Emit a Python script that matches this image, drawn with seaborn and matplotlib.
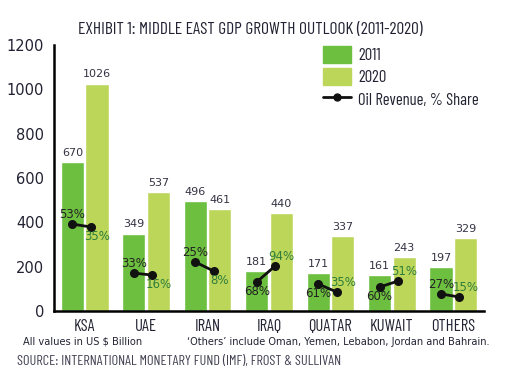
import matplotlib
matplotlib.use("Agg")
import matplotlib.pyplot as plt
import seaborn as sns
import pandas as pd
from matplotlib.lines import Line2D
from matplotlib.patches import Patch

countries = ['KSA', 'UAE', 'IRAN', 'IRAQ', 'QUATAR', 'KUWAIT', 'OTHERS']
gdp_2011 = [670, 349, 496, 181, 171, 161, 197]
gdp_2020 = [1026, 537, 461, 440, 337, 243, 329]
oil_2011 = [53, 33, 25, 68, 61, 60, 27]
oil_2020 = [35, 16, 8, 94, 35, 51, 15]
# height (on the GDP axis) where the oil share markers sit
oil_y_2011 = [392, 171, 221, 131, 122, 108, 77]
oil_y_2020 = [379, 162, 180, 203, 86, 135, 63]
# label side for the share text: 1 = above the marker, -1 = below
side_2011 = [1, 1, 1, -1, -1, -1, 1]
side_2020 = [-1, -1, -1, 1, 1, 1, 1]

c11 = '#6cbf3f'
c20 = '#bcd65a'
narrow = ['Barlow Condensed', 'DejaVu Sans']

df = pd.DataFrame({
    'country': countries * 2,
    'gdp': gdp_2011 + gdp_2020,
    'year': ['2011'] * 7 + ['2020'] * 7,
})

sns.set_style('white')
plt.rcParams['font.family'] = ['DejaVu Sans']

fig = plt.figure(figsize=(5.15, 3.77), dpi=100)
ax = fig.add_axes([54 / 515, 1 - 311 / 377, 430 / 515, 266 / 377])

sns.barplot(data=df, x='country', y='gdp', hue='year', palette=[c11, c20],
            width=0.8, gap=0.06, legend=False, ax=ax, saturation=1)

for cont in ax.containers:
    ax.bar_label(cont, padding=3, fontsize=8, color='#333344')

for i in range(len(countries)):
    # the 2020 marker sits a bit left of its bar centre in the original
    ax.plot([i - 0.2, i + 0.1], [oil_y_2011[i], oil_y_2020[i]], color='#111111',
            lw=2, marker='o', ms=5.5, zorder=5)
    ax.annotate(f'{oil_2011[i]}%', (i - 0.2, oil_y_2011[i]), xytext=(0, 7 * side_2011[i]),
                textcoords='offset points', ha='center', va='center', fontsize=8.5,
                color='#222222', zorder=6)
    ax.annotate(f'{oil_2020[i]}%', (i + 0.2, oil_y_2020[i]), xytext=(0, 7 * side_2020[i]),
                textcoords='offset points', ha='center', va='center', fontsize=8.5,
                color='#2e7d3a', zorder=6)

ax.set_xlim(-0.5, 6.5)
ax.set_ylim(0, 1200)
ax.set_yticks(range(0, 1201, 200))
ax.set_xlabel('')
ax.set_ylabel('')
for s in ['top', 'right']:
    ax.spines[s].set_visible(False)
for s in ['left', 'bottom']:
    ax.spines[s].set_color('black')
    ax.spines[s].set_linewidth(1.8)

ax.tick_params(axis='y', direction='in', length=7, width=1.5, labelsize=10.5, pad=7, colors='black')
for t in ax.get_yticklabels():
    t.set_color('#222233')
ax.set_xticks(range(7))
ax.set_xticklabels(countries, fontsize=12, family=narrow, color='#222233')
ax.tick_params(axis='x', length=0, pad=6)
# short inward ticks at the group boundaries
ax.set_xticks([i + 0.5 for i in range(7)], minor=True)
ax.tick_params(axis='x', which='minor', direction='in', length=5, width=1.5, color='black')

handles = [Patch(color=c11, label='2011'), Patch(color=c20, label='2020'),
           Line2D([], [], color='#111111', lw=2, marker='o', ms=5, label='Oil Revenue, % Share')]
leg = ax.legend(handles=handles, loc='upper left', bbox_to_anchor=(323 / 515, 1 - 46 / 377),
                bbox_transform=fig.transFigure, frameon=False, fontsize=12,
                handlelength=1.7, handleheight=1.2, labelspacing=0.3, handletextpad=0.4,
                borderpad=0, borderaxespad=0)
for t in leg.get_texts():
    t.set_family(narrow)
    t.set_color('#222233')

fig.text(250 / 515, 1 - 29 / 377, 'EXHIBIT 1: MIDDLE EAST GDP GROWTH OUTLOOK (2011-2020)',
         ha='center', va='center', fontsize=12.5, family=narrow, color='#222233')
fig.text(23 / 515, 1 - 342 / 377, 'All values in US $ Billion', ha='left', va='center',
         fontsize=7.1, color='#222233')
fig.text(187 / 515, 1 - 342 / 377, '\u2018Others\u2019 include Oman, Yemen, Lebabon, Jordan and Bahrain.',
         ha='left', va='center', fontsize=7.1, color='#222233')
fig.text(17 / 515, 1 - 361 / 377, 'SOURCE: INTERNATIONAL MONETARY FUND (IMF), FROST & SULLIVAN',
         ha='left', va='center', fontsize=10.3, family=narrow, color='#444455')

fig.savefig('out.png', dpi=100, facecolor='white')
